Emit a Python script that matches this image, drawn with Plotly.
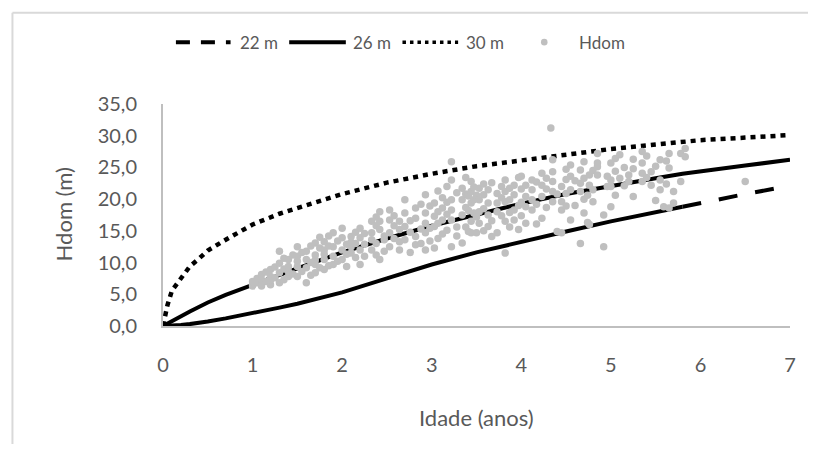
import plotly.graph_objects as go

# ---- site-index curves (age in years, dominant height in m) ----
curve_age = [0, 0.05, 0.1, 0.2, 0.3, 0.4, 0.5, 0.7, 1.0, 1.3, 1.5, 2.0, 2.5, 3.0,
             3.5, 4.0, 4.5, 5.0, 5.5, 5.8, 6.0, 6.5, 7.0]
h22 = [0, 0.02, 0.05, 0.15, 0.3, 0.45, 0.7, 1.2, 2.0, 2.9, 3.5, 5.3, 7.5, 9.7,
       11.6, 13.3, 14.9, 16.5, 17.9, 18.8, 19.4, 20.8, 22.1]
h26 = [0, 0.4, 0.8, 1.6, 2.3, 3.0, 3.7, 4.9, 6.5, 8.1, 9.1, 11.6, 13.8, 15.8,
       17.6, 19.3, 20.8, 22.1, 23.3, 24.0, 24.4, 25.3, 26.2]
h30 = [0, 3.3, 5.6, 7.6, 9.4, 10.6, 11.9, 13.6, 16.0, 17.7, 18.6, 20.8, 22.6, 24.0,
       25.2, 26.1, 27.0, 27.9, 28.6, 29.0, 29.3, 29.7, 30.1]

# ---- observed dominant heights ----
hdom_age = [
    1.00, 1.00, 1.00,
    1.05, 1.05,
    1.10, 1.10, 1.10,
    1.15, 1.15,
    1.20, 1.20, 1.20, 1.20,
    1.25, 1.25,
    1.30, 1.30, 1.30, 1.30,
    1.35, 1.35, 1.35,
    1.40, 1.40, 1.40, 1.40,
    1.45, 1.45,
    1.50, 1.50, 1.50, 1.50, 1.50,
    1.55, 1.55,
    1.60, 1.60, 1.60, 1.60,
    1.65, 1.65, 1.65,
    1.70, 1.70, 1.70, 1.70, 1.70,
    1.75, 1.75, 1.75,
    1.80, 1.80, 1.80, 1.80, 1.80,
    1.85, 1.85, 1.85,
    1.90, 1.90, 1.90, 1.90,
    1.95, 1.95,
    2.00, 2.00, 2.00, 2.00,
    2.05, 2.05, 2.05,
    2.10, 2.10, 2.10, 2.10,
    2.15, 2.15, 2.15,
    2.20, 2.20, 2.20, 2.20,
    2.25, 2.25, 2.25,
    2.33, 2.33, 2.33, 2.33,
    2.38, 2.38, 2.38, 2.38,
    2.42, 2.42, 2.42, 2.42,
    2.47, 2.47, 2.47,
    2.53, 2.53, 2.53, 2.53,
    2.58, 2.58, 2.58,
    2.64, 2.64, 2.64, 2.64,
    2.70, 2.70, 2.70, 2.70,
    2.76, 2.76, 2.76,
    2.82, 2.82, 2.82, 2.82,
    2.88, 2.88, 2.88,
    2.93, 2.93, 2.93, 2.93, 2.93,
    2.98, 2.98, 2.98,
    3.03, 3.03, 3.03, 3.03,
    3.07, 3.07, 3.07, 3.07,
    3.12, 3.12, 3.12, 3.12,
    3.17, 3.17, 3.17, 3.17,
    3.22, 3.22, 3.22, 3.22, 3.22, 3.22,
    3.28, 3.28, 3.28,
    3.34, 3.34, 3.34, 3.34,
    3.38, 3.38, 3.38, 3.38,
    3.41, 3.41, 3.41,
    3.44, 3.44, 3.44, 3.44, 3.44,
    3.47, 3.47, 3.47,
    3.50, 3.50, 3.50,
    3.53, 3.53, 3.53, 3.53,
    3.58, 3.58, 3.58, 3.58,
    3.63, 3.63, 3.63, 3.63,
    3.67, 3.67, 3.67,
    3.73, 3.73, 3.73, 3.73,
    3.78, 3.78, 3.78,
    3.82, 3.82, 3.82, 3.82, 3.82,
    3.87, 3.87, 3.87, 3.87,
    3.92, 3.92, 3.92, 3.92,
    3.97, 3.97, 3.97,
    4.00, 4.00, 4.00, 4.00,
    4.05, 4.05, 4.05, 4.05,
    4.12, 4.12, 4.12, 4.12,
    4.17, 4.17, 4.17,
    4.23, 4.23, 4.23, 4.23,
    4.28, 4.28, 4.28,
    4.33,
    4.35, 4.35, 4.35, 4.35, 4.35,
    4.40, 4.40,
    4.45, 4.45, 4.45, 4.45,
    4.50, 4.50, 4.50, 4.50,
    4.55, 4.55, 4.55, 4.55,
    4.60, 4.60,
    4.66, 4.66, 4.66, 4.66,
    4.70, 4.70, 4.70, 4.70,
    4.74, 4.74,
    4.76, 4.76, 4.76,
    4.80, 4.80, 4.80,
    4.85, 4.85, 4.85, 4.85,
    4.92, 4.92,
    4.96, 4.96,
    5.00, 5.00, 5.00, 5.00,
    5.05, 5.05, 5.05,
    5.10, 5.10,
    5.15, 5.15,
    5.20, 5.20,
    5.25, 5.25, 5.25,
    5.35, 5.35, 5.35, 5.35,
    5.40, 5.40,
    5.45, 5.45,
    5.50, 5.50,
    5.55, 5.55, 5.55,
    5.59,
    5.62, 5.62,
    5.65, 5.65, 5.65,
    5.70, 5.70,
    5.78, 5.78,
    5.83, 5.83,
    6.50,
]
hdom_h = [
    6.3, 6.6, 7.0,
    6.8, 7.5,
    6.3, 7.3, 8.1,
    7.0, 8.5,
    6.5, 7.2, 7.8, 8.9,
    7.6, 9.3,
    6.8, 8.4, 9.9, 11.8,
    7.3, 9.0, 10.7,
    7.8, 8.6, 9.4, 10.5,
    8.2, 11.2,
    7.8, 9.4, 10.2, 11.0, 12.5,
    8.6, 11.6,
    6.8, 9.2, 10.5, 11.8,
    8.0, 10.0, 12.6,
    8.4, 9.7, 10.4, 11.2, 13.1,
    9.2, 12.3, 14.0,
    8.9, 10.5, 11.3, 12.0, 13.3,
    9.5, 12.6, 14.2,
    9.7, 11.0, 12.5, 14.7,
    10.2, 13.4,
    10.5, 12.0, 13.9, 15.4,
    9.4, 11.3, 12.9,
    11.5, 12.5, 13.2, 14.1,
    10.8, 13.0, 14.8,
    9.7, 12.0, 13.9, 15.4,
    11.0, 12.9, 14.6,
    12.0, 13.6, 14.7, 16.5,
    11.2, 13.0, 15.8, 17.2,
    10.5, 15.2, 16.5, 18.0,
    11.8, 13.6, 14.2,
    12.5, 14.7, 16.7, 18.3,
    13.8, 15.8, 17.4,
    12.0, 13.3, 15.2, 16.5,
    13.6, 15.7, 17.8, 19.9,
    11.6, 14.8, 16.6,
    12.8, 14.1, 17.0, 18.6,
    13.0, 15.3, 19.2,
    12.0, 14.7, 16.2, 17.8, 20.7,
    13.4, 15.4, 18.9,
    12.3, 15.7, 17.3, 19.4,
    13.8, 16.2, 18.0, 21.3,
    14.5, 16.7, 18.6, 20.2,
    15.1, 17.6, 19.5, 22.0,
    12.5, 16.7, 18.3, 19.9, 23.0, 25.9,
    14.2, 15.6, 21.0,
    13.1, 17.5, 19.9, 21.7,
    15.6, 18.7, 20.8, 23.4,
    14.9, 18.2, 20.5,
    14.7, 16.5, 19.4, 21.2, 22.8,
    17.8, 19.9, 21.9,
    14.7, 17.2, 20.6,
    16.2, 18.0, 19.9, 21.7,
    15.0, 18.5, 20.7, 22.4,
    15.7, 17.5, 19.4, 21.5,
    14.1, 16.6, 22.6,
    14.7, 18.0, 19.4, 20.9,
    17.4, 20.2, 22.0,
    11.5, 16.5, 19.6, 21.2, 23.0,
    15.6, 17.9, 19.9, 21.7,
    16.7, 18.3, 20.7, 22.2,
    15.2, 19.0, 23.4,
    17.4, 19.5, 21.6, 23.6,
    16.2, 18.8, 20.4, 22.2,
    18.3, 19.9, 21.5, 23.0,
    16.1, 19.2, 22.7,
    17.0, 20.4, 22.2, 24.1,
    18.7, 21.6, 23.3,
    31.2,
    19.6, 21.2, 22.8, 24.3, 26.2,
    14.9, 20.8,
    14.7, 18.3, 19.6, 22.0,
    18.9, 20.9, 23.1, 24.7,
    16.7, 21.5, 23.6, 25.4,
    19.0, 22.9,
    13.0, 21.2, 22.5, 24.6,
    17.8, 20.0, 23.3, 25.9,
    16.3, 20.6,
    16.0, 22.2, 23.8,
    19.6, 21.5, 24.5,
    23.8, 25.1, 25.7, 27.2,
    12.5, 17.5,
    22.0, 23.6,
    18.8, 22.0, 23.0, 25.7,
    20.6, 24.4, 26.4,
    23.3, 27.0,
    22.1, 25.0,
    22.8, 23.8,
    20.4, 24.8, 26.3,
    22.8, 24.1, 25.7, 27.5,
    23.4, 26.8,
    22.2, 24.3,
    19.8, 25.2,
    21.5, 23.0, 26.2,
    18.8,
    22.4, 26.0,
    18.6, 24.9, 27.2,
    19.4, 21.2,
    22.8, 27.2,
    26.7, 28.0,
    22.8,
]

legend_labels = ["22 m", "26 m", "30 m", "Hdom"]
x_title = "Idade (anos)"
y_title = "Hdom (m)"

TXT = "#595959"
FONT = "Lato"
GREY_PT = "#bfbfbf"
AXIS = "#bfbfbf"

# The page body has an 8px default margin, so the figure is drawn 8px in
# from the window edge; it is sized so the page never needs to scroll.
# Geometry below is expressed in window pixels.
OFF = 8
W, H = 800, 436
PLOT_L, PLOT_R, PLOT_T, PLOT_B = 163, 794, 104, 326.5   # window px
L = PLOT_L - OFF
T = PLOT_T - OFF
R = W - (PLOT_R - OFF)
B = H - (PLOT_B - OFF)
PW, PH = PLOT_R - PLOT_L, PLOT_B - PLOT_T


def px(xw):
    return (xw - PLOT_L) / PW


def py(yw):
    return (PLOT_B - yw) / PH


fig = go.Figure()

# 22 m curve: solid where densely sampled, dashed along the tail
split = curve_age.index(5.8)
fig.add_trace(go.Scatter(x=curve_age[:split + 1], y=h22[:split + 1], mode="lines",
                         line=dict(color="black", width=4), cliponaxis=False,
                         showlegend=False, hoverinfo="skip"))
fig.add_trace(go.Scatter(x=curve_age[split:], y=h22[split:], mode="lines",
                         line=dict(color="black", width=4, dash="19px,18px"),
                         cliponaxis=False, showlegend=False, name=legend_labels[0]))
fig.add_trace(go.Scatter(x=curve_age, y=h26, mode="lines",
                         line=dict(color="black", width=4), cliponaxis=False,
                         showlegend=False, name=legend_labels[1]))
fig.add_trace(go.Scatter(x=curve_age, y=h30, mode="lines",
                         line=dict(color="black", width=4.5, dash="5px,5px"),
                         cliponaxis=False, showlegend=False, name=legend_labels[2]))
fig.add_trace(go.Scatter(x=hdom_age, y=hdom_h, mode="markers",
                         marker=dict(color=GREY_PT, size=7.5, line=dict(width=0)),
                         cliponaxis=False, showlegend=False, name=legend_labels[3]))

shapes = []
# chart border (only top and left edges fall inside the window)
shapes.append(dict(type="line", xref="paper", yref="paper", x0=px(11.5), x1=px(816),
                   y0=py(12.5), y1=py(12.5), line=dict(color="#d9d9d9", width=2)))
shapes.append(dict(type="line", xref="paper", yref="paper", x0=px(11.5), x1=px(11.5),
                   y0=py(12.5), y1=py(460), line=dict(color="#d9d9d9", width=2)))

# custom legend
ly = py(42)
shapes.append(dict(type="line", xref="paper", yref="paper", x0=px(176), x1=px(231),
                   y0=ly, y1=ly, line=dict(color="black", width=4, dash="14px,11px")))
shapes.append(dict(type="line", xref="paper", yref="paper", x0=px(290), x1=px(347),
                   y0=ly, y1=ly, line=dict(color="black", width=4)))
shapes.append(dict(type="line", xref="paper", yref="paper", x0=px(404), x1=px(460),
                   y0=ly, y1=ly, line=dict(color="black", width=3.5, dash="3.5px,4px")))
r = 3.3
shapes.append(dict(type="circle", xref="paper", yref="paper",
                   x0=px(546.7 - r), x1=px(546.7 + r), y0=py(42 + r), y1=py(42 - r),
                   fillcolor=GREY_PT, line=dict(width=0)))

annotations = []
for label, xs in zip(legend_labels, [238, 352, 466, 580]):
    annotations.append(dict(text=label, xref="paper", yref="paper", x=px(xs), y=ly,
                            xanchor="left", yanchor="middle", showarrow=False,
                            font=dict(family=FONT, size=17, color=TXT)))
annotations.append(dict(text=x_title, xref="paper", yref="paper", x=px(479), y=py(418),
                        xanchor="center", yanchor="middle", showarrow=False,
                        font=dict(family=FONT, size=22, color=TXT)))
annotations.append(dict(text=y_title, xref="paper", yref="paper", x=px(63), y=py(215),
                        xanchor="center", yanchor="middle", showarrow=False, textangle=-90,
                        font=dict(family=FONT, size=22, color=TXT)))

fig.update_layout(
    width=W, height=H,
    margin=dict(l=L, r=R, t=T, b=B, pad=0),
    paper_bgcolor="white", plot_bgcolor="white",
    separators=", ",
    showlegend=False,
    shapes=shapes,
    annotations=annotations,
    xaxis=dict(range=[0, 7], tickvals=[0, 1, 2, 3, 4, 5, 6, 7], showgrid=False,
               zeroline=False, showline=True, linecolor=AXIS, linewidth=2,
               ticks="", ticklabelstandoff=20,
               tickfont=dict(family=FONT, size=20, color=TXT)),
    yaxis=dict(range=[0, 35], tickvals=[0, 5, 10, 15, 20, 25, 30, 35], tickformat=".1f",
               showgrid=False, zeroline=False, showline=True, linecolor=AXIS, linewidth=2,
               ticks="", ticklabelstandoff=20,
               tickfont=dict(family=FONT, size=20, color=TXT)),
)

fig.write_html("out.html")
